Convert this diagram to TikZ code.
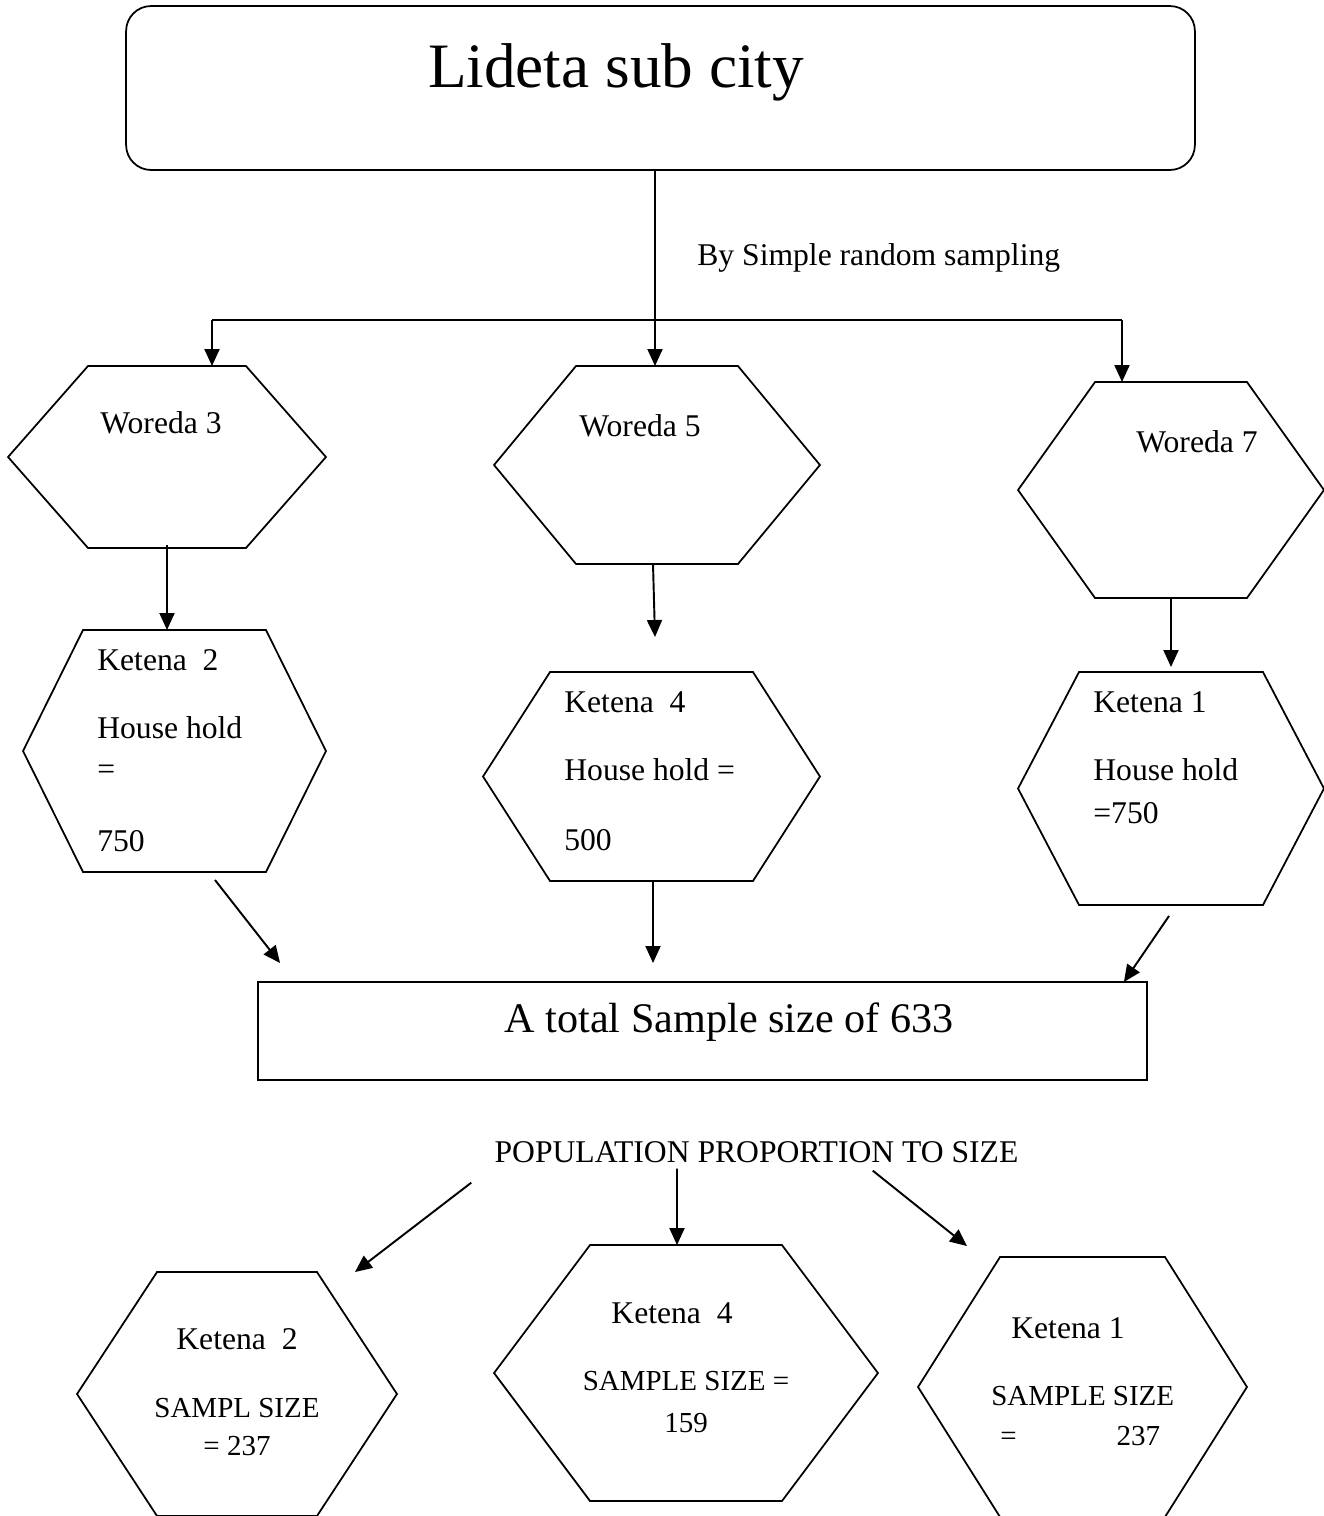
\documentclass[tikz,border=0pt]{standalone}
\usepackage{fontspec}
\setmainfont{Liberation Serif}
\usetikzlibrary{arrows.meta,positioning}

\begin{document}
\begin{tikzpicture}[
    x=0.02cm, y=-0.02cm,
    hexa/.style={inner sep=0pt, outer sep=0pt,
      append after command={\pgfextra{\let\hexnode\tikzlastnode
        \draw[line width=1pt] ([xshift=#1]\hexnode.north west) -- ([xshift=-#1]\hexnode.north east)
          -- (\hexnode.east) -- ([xshift=-#1]\hexnode.south east)
          -- ([xshift=#1]\hexnode.south west) -- (\hexnode.west) -- cycle;}}},
    citybox/.style={draw, line width=1pt, rounded corners=0.5cm, minimum width=21.38cm, minimum height=3.28cm, outer sep=0pt},
    totalbox/.style={draw, line width=1.1pt, minimum width=17.78cm, minimum height=1.96cm, outer sep=0pt},
    txt/.style={inner sep=0pt, font=\fontsize{18}{23}\selectfont},
    small/.style={inner sep=0pt, font=\fontsize{16.5}{21.5}\selectfont},
    conn/.style={line width=1.1pt},
    arrow/.style={-{Triangle[length=0.34cm, width=0.3cm]}, line width=1.1pt}
  ]
    \useasboundingbox (0,0) rectangle (1324,1516);

    % top box
    \node[citybox] (city) at (660.5,88) {};
    \node[inner sep=0pt, anchor=base, font=\fontsize{36}{40}\selectfont] (citytxt) at (616,87) {Lideta sub city};
    \node[txt, anchor=base west] (srs) at (697,265) {By Simple random sampling};

    % woredas
    \node[hexa=1.6cm, minimum width=6.36cm, minimum height=3.64cm] (w3) at (167,457) {};
    \node[hexa=1.64cm, minimum width=6.52cm, minimum height=3.96cm] (w5) at (657,465) {};
    \node[hexa=1.54cm, minimum width=6.12cm, minimum height=4.32cm] (w7) at (1171,490) {};
    \node[txt, anchor=base west] (w3txt) at (100,433) {Woreda 3};
    \node[txt, anchor=base west] (w5txt) at (579,436) {Woreda 5};
    \node[txt, anchor=base west] (w7txt) at (1136,452) {Woreda 7};

    % ketenas with house holds
    \node[hexa=1.2cm, minimum width=6.06cm, minimum height=4.84cm] (k2) at (174.5,751) {};
    \node[hexa=1.34cm, minimum width=6.74cm, minimum height=4.18cm] (k4) at (651.5,776.5) {};
    \node[hexa=1.22cm, minimum width=6.12cm, minimum height=4.66cm] (k1) at (1171,788.5) {};
    \node[txt, align=left, anchor=base west] (k2txt) at (97,851) {Ketena\ \ 2\\[0.55cm]House hold\\=\\[0.63cm]750};
    \node[txt, align=left, anchor=base west] (k4txt) at (564,850) {Ketena\ \ 4\\[0.55cm]House hold =\\[0.59cm]500};
    \node[txt, align=left, anchor=base west] (k1txt) at (1093,823) {Ketena 1\\[0.55cm]House hold\\[0.05cm]=750};

    % total
    \node[totalbox] (total) at (702.5,1031) {};
    \node[inner sep=0pt, anchor=base, font=\fontsize{24}{28}\selectfont] (totaltxt) at (729,1032) {A total Sample size of 633};
    \node[txt, anchor=base] (pps) at (756.5,1162) {POPULATION PROPORTION TO SIZE};

    % sample sizes
    \node[hexa=1.6cm, minimum width=6.4cm, minimum height=4.88cm] (k2b) at (237,1394) {};
    \node[hexa=1.92cm, minimum width=7.68cm, minimum height=5.12cm] (k4b) at (686,1373) {};
    \node[hexa=1.64cm, minimum width=6.58cm, minimum height=5.2cm] (k1b) at (1082.5,1387) {};
    \node[small, align=center, anchor=base] (k2btxt) at (237,1455) {{\fontsize{18}{21.5}\selectfont Ketena\ \ 2}\\[0.6cm]SAMPL SIZE\\= 237};
    \node[small, align=center, anchor=base] (k4btxt) at (686,1432) {{\fontsize{18}{21.5}\selectfont Ketena\ \ 4}\hspace*{0.56cm}\\[0.58cm]SAMPLE SIZE =\\[0.08cm]159};
    \node[small, align=left, anchor=base west] (k1btxt) at (991,1445) {\hspace*{0.4cm}{\fontsize{18}{21.5}\selectfont Ketena 1}\\[0.58cm]SAMPLE SIZE\\[0.04cm]\hspace*{0.18cm}=\hspace{2.0cm}237};

    % connectors
    \coordinate (split) at (655,320);
    \coordinate (bl) at (212,320);
    \coordinate (br) at (1122,320);
    \draw[conn] (split |- city.south) -- (split);
    \draw[conn] (bl) -- (br);
    \draw[arrow] (bl) -- (bl |- w3.north);
    \draw[arrow] (split) -- (split |- w5.north);
    \draw[arrow] (br) -- (br |- w7.north);

    \draw[arrow] ([yshift=0.06cm]w3.south) -- (w3.south |- k2.north);
    \draw[arrow] ([xshift=-0.08cm]w5.south) -- ([xshift=0.07cm,yshift=0.7cm]k4.north);
    \draw[arrow] (w7.south) -- ([yshift=0.1cm]k1.north);

    \draw[arrow] ([xshift=0.81cm,yshift=-0.16cm]k2.south) -- ([xshift=0.44cm,yshift=0.38cm]total.north west);
    \draw[arrow] ([xshift=0.03cm]k4.south) -- ([xshift=-0.99cm,yshift=0.38cm]total.north);
    \draw[arrow] ([xshift=-0.04cm,yshift=-0.22cm]k1.south) -- ([xshift=-0.46cm]total.north east);

    \draw[arrow] ([xshift=-0.46cm,yshift=-0.4cm]pps.south west) -- ([xshift=-0.84cm]k2b.north east);
    \draw[arrow] ([xshift=-1.59cm,yshift=-0.12cm]pps.south) -- ([xshift=-0.18cm]k4b.north);
    \draw[arrow] ([xshift=-2.92cm,yshift=-0.16cm]pps.south east) -- ([xshift=0.98cm,yshift=0.22cm]k1b.north west);
  \end{tikzpicture}
\end{document}
